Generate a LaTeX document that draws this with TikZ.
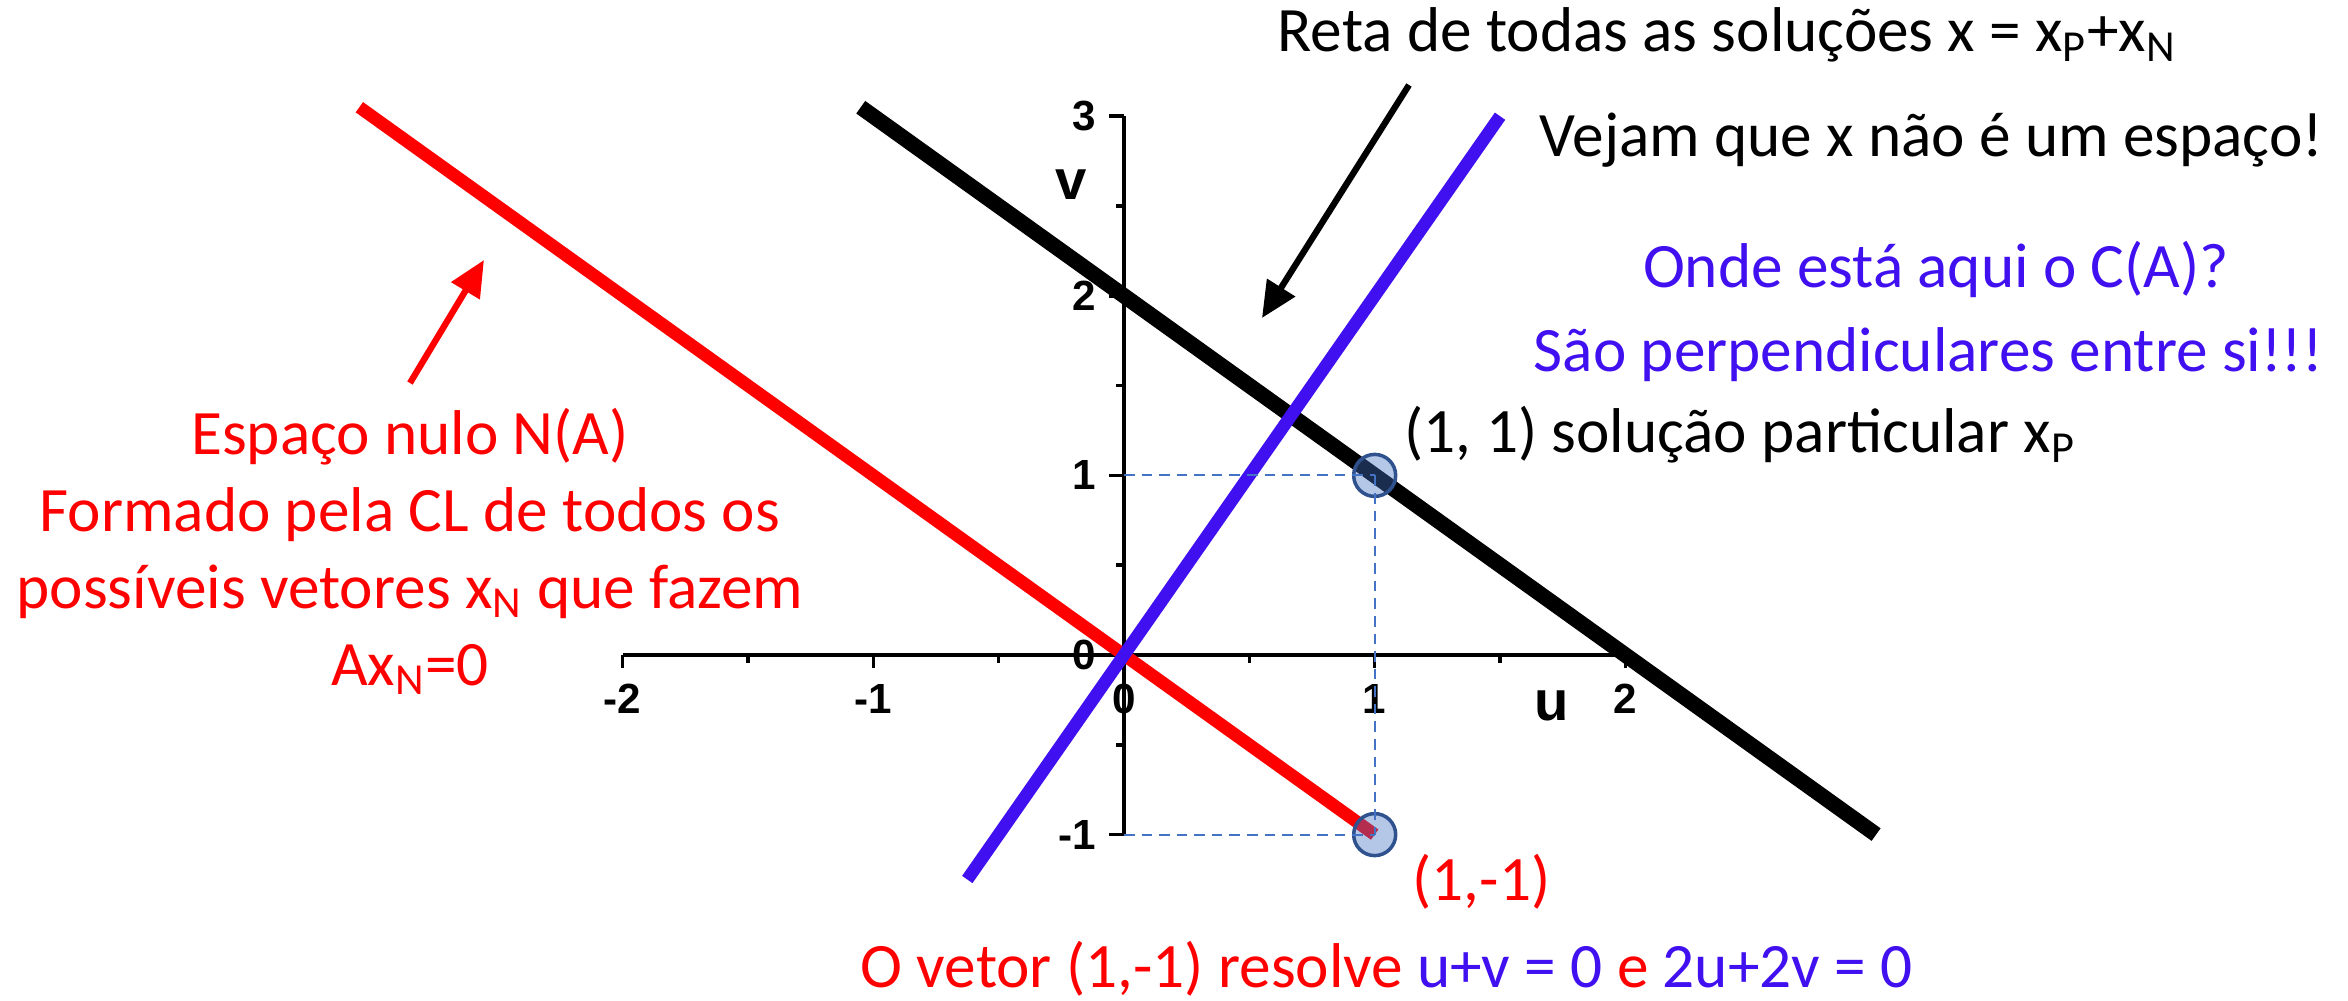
\documentclass[tikz,border=0pt]{standalone}
\usepackage{fontspec}
\setmainfont{Carlito}
\newfontfamily\axisfont{Liberation Sans}
\usetikzlibrary{arrows.meta,positioning}
\definecolor{nullred}{HTML}{FF0000}
\definecolor{colblue}{HTML}{4010F0}
\definecolor{guideblue}{HTML}{4472C4}
\definecolor{ptedge}{HTML}{2F528F}

\begin{document}
\begin{tikzpicture}[
    x=2.507cm, y=1.796cm,
    font=\fontsize{18}{21.9}\selectfont,
    axis/.style={line width=1pt},
    ticklabel/.style={
        font=\axisfont\bfseries\fontsize{12}{14}\selectfont,
        inner sep=0pt
    },
    axislabel/.style={
        font=\axisfont\bfseries\fontsize{16}{18}\selectfont,
        inner sep=0pt
    },
    nullline/.style={nullred,line width=3.6pt},
    solline/.style={black,line width=4.4pt},
    colline/.style={colblue,line width=3.6pt},
    guide/.style={guideblue,line width=0.6pt,dash pattern=on 3pt off 2pt},
    point/.style={
        circle,
        minimum size=0.42cm,
        inner sep=0pt,
        draw=ptedge,
        line width=1pt,
        fill=guideblue,
        fill opacity=0.4,
        draw opacity=1
    },
    pointer/.style={-{Triangle[length=3.6mm,width=3.2mm]},line width=1.8pt},
    txt/.style={inner sep=0pt,anchor=base west}
]
\useasboundingbox (-11.24cm,-3.46cm) rectangle (12.24cm,6.55cm);

% Axes
\draw[axis] (-2,0) -- (2,0);
\draw[axis] (0,-1) -- (0,3);
\foreach \u in {-2,...,2} {
    \draw[axis] (\u,0) -- ++(0,-0.13cm);
    \node[ticklabel] (xt\u) at ([yshift=-0.44cm]\u,0) {\u};
}
\foreach \u in {-1.5,-0.5,0.5,1.5}
    \draw[axis] (\u,0) -- ++(0,-0.08cm);
\foreach \v in {-1,...,3} {
    \draw[axis] (0,\v) -- ++(-0.15cm,0);
    \node[ticklabel,anchor=east] (yt\v) at ([xshift=-0.27cm]0,\v) {\v};
}
\foreach \v in {-0.5,0.5,1.5,2.5}
    \draw[axis] (0,\v) -- ++(-0.08cm,0);
\node[axislabel] (ulabel) at (4.28cm,-0.51cm) {u};
\node[axislabel] (vlabel) at (-0.53cm,4.70cm) {v};

% Null space, solution line, column space
\draw[nullline] (-3.05,3.05) -- (1,-1);
\draw[solline] (-1.05,3.05) -- (3,-1);
\draw[colline] (-0.625,-1.25) -- (1.5,3);

% Particular and null solutions
\node[point] (xp) at (1,1) {};
\node[point] (xn) at (1,-1) {};
\coordinate (vone) at (0,1);
\coordinate (vmone) at (0,-1);
\draw[guide] (vone) -- (xp.center);
\draw[guide] (xp.center) -- (xn.center);
\draw[guide] (vmone) -- (xn.center);

% Labels on the right
\node[txt] (reta) at (1.53cm,6.03cm)
    {Reta de todas as soluções x = x\textsubscript{P}+x\textsubscript{N}};
\node[txt,anchor=base east] (vejam) at (12.0cm,4.98cm)
    {Vejam que x não é um espaço!};
\node[txt,anchor=base,text=colblue] (onde) at (8.12cm,3.68cm)
    {Onde está aqui o C(A)?};
\node[txt,anchor=base east,text=colblue] (perp) at (12.0cm,2.83cm)
    {São perpendiculares entre si!!!};
\node[txt] (xplabel) at (2.80cm,2.02cm)
    {(1, 1) solução particular x\textsubscript{P}};

% Null space description
\node[inner sep=0pt,align=center,anchor=base,text=nullred] (nulo) at (-7.14cm,-0.30cm) {
    Espaço nulo N(A)\\
    Formado pela CL de todos os\\
    possíveis vetores x\textsubscript{N} que fazem\\
    Ax\textsubscript{N}=0
};
\node[txt,text=nullred] (xnlabel) at (2.88cm,-2.45cm) {(1,-1)};
\node[txt,text=nullred] (solve) at (-2.64cm,-3.32cm)
    {O vetor (1,-1) resolve \textcolor{colblue}{u+v = 0} e \textcolor{colblue}{2u+2v = 0}};

% Pointers
\coordinate (retatail) at (2.85cm,5.70cm);
\coordinate (retatip) at (1.38cm,3.37cm);
\draw[pointer] (retatail) -- (retatip);
\coordinate (nulotail) at (-7.14cm,2.72cm);
\coordinate (nulotip) at (-6.40cm,3.95cm);
\draw[pointer,nullred] (nulotail) -- (nulotip);

\end{tikzpicture}
\end{document}
